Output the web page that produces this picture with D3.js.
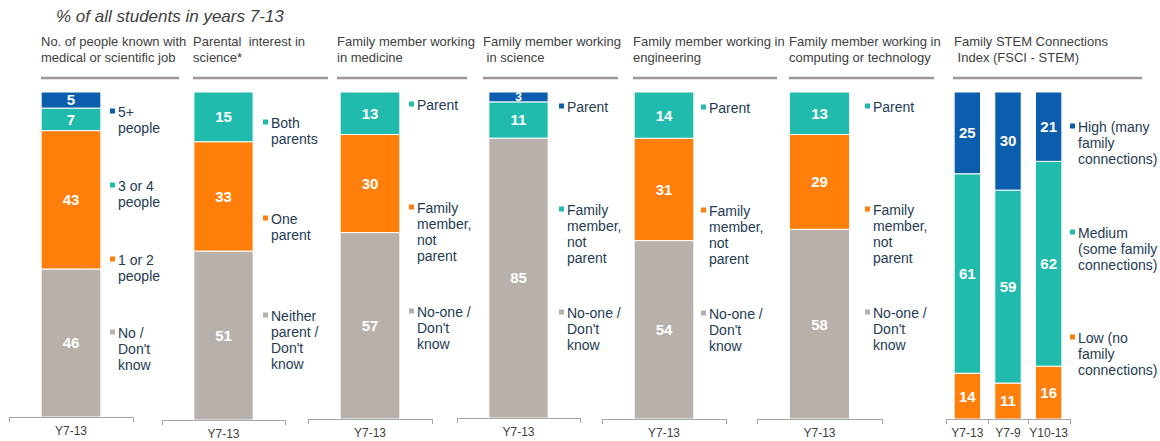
<!DOCTYPE html>
<html><head><meta charset="utf-8">
<script src="https://cdn.jsdelivr.net/npm/d3@7"></script>
<style>body{margin:0;background:#fff;} svg{display:block;font-family:"Liberation Sans",Arial,sans-serif;}</style>
</head><body>
<svg id="chart" width="1160" height="441"></svg>
<script>
// ---------- DATA ----------
const mainTitle = "% of all students in years 7-13";
const panelTitles = [
  ["No. of people known with", "medical or scientific job"],
  ["Parental  interest in", "science*"],
  ["Family member working", "in medicine"],
  ["Family member working", " in science"],
  ["Family member working in", "engineering"],
  ["Family member working in", "computing or technology"],
  ["Family STEM Connections", " Index (FSCI - STEM)"]
];
const singleCategory = ["Y7-13"];
const fsciCategories = ["Y7-13", "Y7-9", "Y10-13"];

// series listed bottom -> top
const peopleKnownSeries = ["No /\nDon't\nknow", "1 or 2\npeople", "3 or 4\npeople", "5+\npeople"];
const peopleKnownValues = [46, 43, 7, 5];

const parentalSeries = ["Neither\nparent /\nDon't\nknow", "One\nparent", "Both\nparents"];
const parentalValues = [51, 33, 15];

const familySeries = ["No-one /\nDon't\nknow", "Family\nmember,\nnot\nparent", "Parent"];
const medicineValues = [57, 30, 13];
const scienceValues = [85, 11, 3];
const engineeringValues = [54, 31, 14];
const computingValues = [58, 29, 13];

const fsciSeries = ["Low (no\nfamily\nconnections)", "Medium\n(some family\nconnections)", "High (many\nfamily\nconnections)"];
const fsciLow = [14, 11, 16];
const fsciMedium = [61, 59, 62];
const fsciHigh = [25, 30, 21];

// ---------- STYLE / LAYOUT ----------
const C = {blue: "#0b5ead", teal: "#21bbad", orange: "#ff7f0a", grey: "#b8b0aa"};
const panels = [
  {title: panelTitles[0], cats: singleCategory, series: peopleKnownSeries, colors: [C.grey, C.orange, C.teal, C.blue],
   values: peopleKnownValues.map(v=>[v]),
   ax: [9,133], base: 417, tx: 41, rule: [41,179], lx: 110, ly: [333, 260, 186, 112]},
  {title: panelTitles[1], cats: singleCategory, series: parentalSeries, colors: [C.grey, C.orange, C.teal],
   values: parentalValues.map(v=>[v]),
   ax: [162,285], base: 420, tx: 193, rule: [193,328], lx: 263, ly: [316, 219, 123]},
  {title: panelTitles[2], cats: singleCategory, series: familySeries, colors: [C.grey, C.orange, C.teal],
   values: medicineValues.map(v=>[v]),
   ax: [308,432], base: 419, tx: 337, rule: [337,467], lx: 409, ly: [312, 208, 105]},
  {title: panelTitles[3], cats: singleCategory, series: familySeries, colors: [C.grey, C.teal, C.blue],
   values: scienceValues.map(v=>[v]),
   ax: [457,580], base: 418, tx: 483, rule: [483,618], lx: 559, ly: [313, 210, 107]},
  {title: panelTitles[4], cats: singleCategory, series: familySeries, colors: [C.grey, C.orange, C.teal],
   values: engineeringValues.map(v=>[v]),
   ax: [602,726], base: 419, tx: 633, rule: [633,777], lx: 701, ly: [314, 211, 108]},
  {title: panelTitles[5], cats: singleCategory, series: familySeries, colors: [C.grey, C.orange, C.teal],
   values: computingValues.map(v=>[v]),
   ax: [757,882], base: 419, tx: 789, rule: [789,934], lx: 865, ly: [313, 210, 107]},
  {title: panelTitles[6], cats: fsciCategories, series: fsciSeries, colors: [C.orange, C.teal, C.blue],
   values: [fsciLow, fsciMedium, fsciHigh],
   ax: [946,1070], base: 419, tx: 954, rule: [953,1142], lx: 1070, ly: [338, 233, 127], multi: true}
];
const barTop = 92;
const textColor = "#404040";
const legendColor = "#243b53";

const svg = d3.select("#chart");

svg.append("text").attr("x", 56).attr("y", 22)
  .attr("font-size", 17).attr("font-style", "italic").attr("fill", textColor).text(mainTitle);

panels.forEach(p => {
  const g = svg.append("g");
  // title
  p.title.forEach((line, i) => {
    g.append("text").attr("x", p.tx).attr("y", 46 + i * 16)
      .attr("font-size", 13).attr("fill", textColor)
      .style("white-space", "pre").text(line);
  });
  g.append("line").attr("x1", p.rule[0]).attr("x2", p.rule[1]).attr("y1", 78).attr("y2", 78)
    .attr("stroke", "#9d9794").attr("stroke-width", 2.5);

  const x = d3.scaleBand().domain(p.cats).range(p.ax)
    .paddingInner(0.35).paddingOuter(p.multi ? 0.2 : 0.35);

  p.cats.forEach((cat, ci) => {
    const vals = p.values.map(s => s[ci]);
    const total = d3.sum(vals);
    const y = d3.scaleLinear().domain([0, total]).range([p.base, barTop]);
    let cum = 0;
    vals.forEach((v, si) => {
      const y0 = y(cum), y1 = y(cum + v);
      cum += v;
      g.append("rect").attr("x", x(cat)).attr("width", x.bandwidth())
        .attr("y", y1).attr("height", y0 - y1)
        .attr("fill", p.colors[si]).attr("stroke", "#fff").attr("stroke-width", 1);
      const h = y0 - y1;
      const fs = h < 14 ? 12 : 15;
      g.append("text").attr("x", x(cat) + x.bandwidth() / 2).attr("y", (y0 + y1) / 2)
        .attr("dy", "0.36em").attr("text-anchor", "middle")
        .attr("font-size", fs).attr("font-weight", "bold").attr("fill", "#fff").text(v);
    });
  });

  // axis
  const axis = d3.axisBottom(x).tickSize(0).tickPadding(9);
  const ag = g.append("g").attr("transform", `translate(0,${p.base})`).call(axis);
  ag.select(".domain").remove();
  ag.selectAll("text").attr("font-size", 12).attr("fill", textColor)
    .attr("font-family", "Liberation Sans, Arial, sans-serif");
  g.append("line").attr("x1", p.ax[0]).attr("x2", p.ax[1]).attr("y1", p.base + 0.5).attr("y2", p.base + 0.5)
    .attr("stroke", "#a6a6a6");
  const bounds = [p.ax[0]].concat(p.cats.map(c => x(c) + x.step() - x.step() * x.paddingInner() / 2));
  bounds[bounds.length - 1] = p.ax[1];
  bounds.forEach(bx => {
    g.append("line").attr("x1", Math.round(bx) + 0.5).attr("x2", Math.round(bx) + 0.5)
      .attr("y1", p.base).attr("y2", p.base + 5).attr("stroke", "#a6a6a6");
  });

  // legend
  p.series.forEach((s, si) => {
    const lines = s.split("\n");
    const cy = p.ly[si];
    g.append("rect").attr("x", p.lx).attr("y", cy - 3.5).attr("width", 5).attr("height", 5)
      .attr("fill", p.colors[si]);
    lines.forEach((ln, li) => {
      g.append("text").attr("x", p.lx + 8).attr("y", cy + 5 + li * 16)
        .attr("font-size", 14).attr("fill", legendColor).text(ln);
    });
  });
});
</script>
</body></html>
